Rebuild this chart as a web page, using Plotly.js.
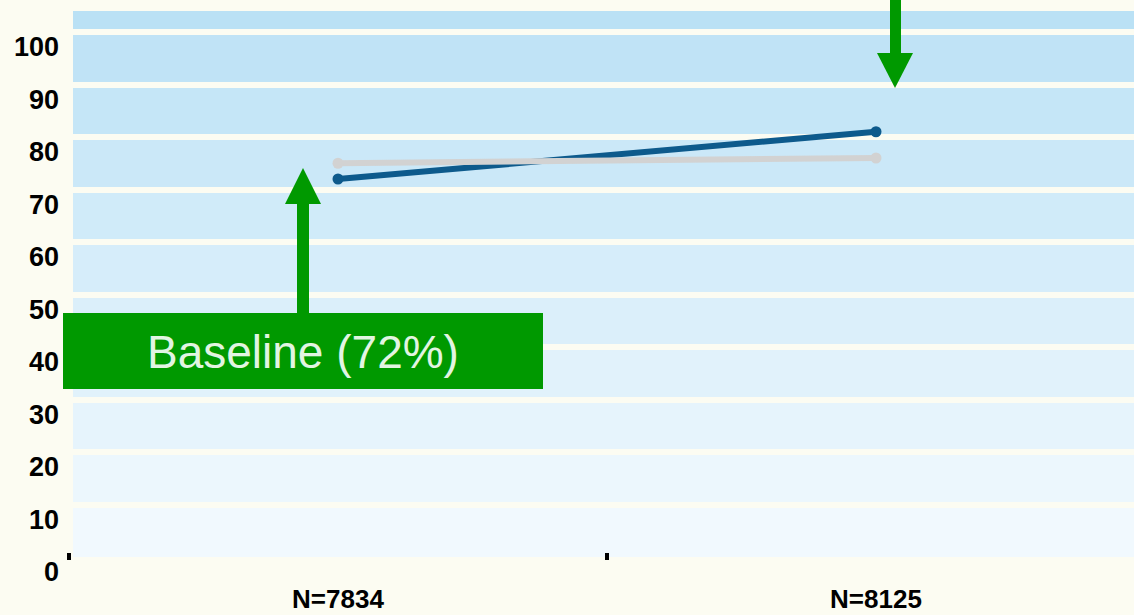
<!DOCTYPE html>
<html>
<head>
<meta charset="utf-8">
<script src="https://cdn.plot.ly/plotly-3.0.1.min.js"></script>
<style>
  html, body { margin: 0; padding: 0; background: #fcfcf2; }
  #chart { width: 1134px; height: 615px; }
</style>
</head>
<body>
<div id="chart"></div>
<script>
// Sample sizes shown under each measurement point
const categories = ['N=7834', 'N=8125'];
// Percentage series
const seriesMain = [72, 81];
const seriesComparison = [75, 76];
// Y axis ticks
const yTickVals = [0, 10, 20, 30, 40, 50, 60, 70, 80, 90, 100];
const yTickText = ['0', '10', '20', '30', '40', '50', '60', '70', '80', '90', '100'];
const baselineLabel = 'Baseline (72%)';

const W = 1134, H = 615;
const M = { l: 73, r: 0, t: 11, b: 58 };
const plotW = W - M.l - M.r;
const plotH = H - M.t - M.b;
const yMax = 104;
// horizontal layout: first category centre at 338px, 538px between categories
const xStart = 338, xStep = 538;

// pixel -> paper coordinates for the callout decorations
const px = x => (x - M.l) / plotW;
const py = y => (H - M.b - y) / plotH;

const xIdx = categories.map((_, i) => i);

// horizontal bands fading from light blue at the top to near white at the bottom
const bandTop = [186, 225, 245], bandBottom = [241, 249, 254];
const bandEdges = yTickVals.concat([yMax]);
const shapes = [];
for (let k = 0; k < bandEdges.length - 1; k++) {
  const t = k / (bandEdges.length - 2);
  const c = bandBottom.map((b, j) => Math.round(b + (bandTop[j] - b) * t));
  shapes.push({
    type: 'rect', layer: 'below', xref: 'paper', yref: 'y',
    x0: 0, x1: 1, y0: bandEdges[k], y1: bandEdges[k + 1],
    fillcolor: `rgb(${c.join(',')})`, line: { width: 0 }
  });
}

// small tick marks on the category boundaries along the bottom edge
xIdx.forEach(i => {
  const cx = xStart - xStep / 2 + i * xStep;
  shapes.push({
    type: 'rect', layer: 'above', xref: 'paper', yref: 'paper',
    x0: px(cx - 2), x1: px(cx + 2), y0: py(553), y1: py(560),
    fillcolor: '#000', line: { width: 0 }
  });
});

const green = '#009900';
function rectPath(x0, y0, x1, y1) {
  return `M${px(x0)},${py(y0)} L${px(x1)},${py(y0)} L${px(x1)},${py(y1)} L${px(x0)},${py(y1)} Z`;
}
function triPath(tx, ty, bx0, bx1, by) {
  return `M${px(tx)},${py(ty)} L${px(bx0)},${py(by)} L${px(bx1)},${py(by)} Z`;
}
// up arrow onto the baseline point
shapes.push({ type: 'path', layer: 'above', xref: 'paper', yref: 'paper',
  path: rectPath(297, 203, 309, 314), fillcolor: green, line: { width: 0 } });
shapes.push({ type: 'path', layer: 'above', xref: 'paper', yref: 'paper',
  path: triPath(303, 168, 285, 321, 204), fillcolor: green, line: { width: 0 } });
// down arrow onto the follow-up point
shapes.push({ type: 'path', layer: 'above', xref: 'paper', yref: 'paper',
  path: rectPath(890, -2, 901, 54), fillcolor: green, line: { width: 0 } });
shapes.push({ type: 'path', layer: 'above', xref: 'paper', yref: 'paper',
  path: triPath(895, 88, 877, 913, 53), fillcolor: green, line: { width: 0 } });
// baseline callout box
shapes.push({ type: 'path', layer: 'above', xref: 'paper', yref: 'paper',
  path: rectPath(63, 313, 543, 389), fillcolor: green, line: { width: 0 } });

const traces = [
  {
    x: xIdx, y: seriesMain, type: 'scatter', mode: 'lines+markers',
    line: { color: '#0d5a8c', width: 6 },
    marker: { color: '#0d5a8c', size: 11 },
    hoverinfo: 'y'
  },
  {
    x: xIdx, y: seriesComparison, type: 'scatter', mode: 'lines+markers',
    line: { color: '#d2d2d2', width: 6 },
    marker: { color: '#d2d2d2', size: 11 },
    hoverinfo: 'y'
  }
];

const labelFont = { family: 'Liberation Sans, Arial, sans-serif', size: 27, color: '#000', weight: 'bold' };

const layout = {
  width: W, height: H,
  margin: M,
  paper_bgcolor: '#fcfcf2',
  plot_bgcolor: 'rgba(0,0,0,0)',
  showlegend: false,
  xaxis: {
    range: [(M.l - xStart) / xStep, (W - xStart) / xStep],
    tickmode: 'array', tickvals: xIdx, ticktext: categories,
    ticks: '', showgrid: false, zeroline: false, showline: false,
    ticklabelstandoff: 24,
    tickfont: Object.assign({}, labelFont, { size: 26 })
  },
  yaxis: {
    range: [0, yMax],
    tickmode: 'array', tickvals: yTickVals, ticktext: yTickText,
    ticks: '', showline: false, zeroline: false,
    showgrid: true, gridcolor: '#fcfcf2', gridwidth: 6,
    ticklabelshift: 15, ticklabelstandoff: 13,
    tickfont: labelFont
  },
  shapes: shapes,
  annotations: [{
    xref: 'paper', yref: 'paper', x: px(303), y: py(352),
    xanchor: 'center', yanchor: 'middle', showarrow: false,
    text: baselineLabel,
    font: { family: 'Liberation Sans, Arial, sans-serif', size: 46, color: '#e2f5e2' }
  }]
};

Plotly.newPlot('chart', traces, layout, { displayModeBar: false, staticPlot: true });
</script>
</body>
</html>
